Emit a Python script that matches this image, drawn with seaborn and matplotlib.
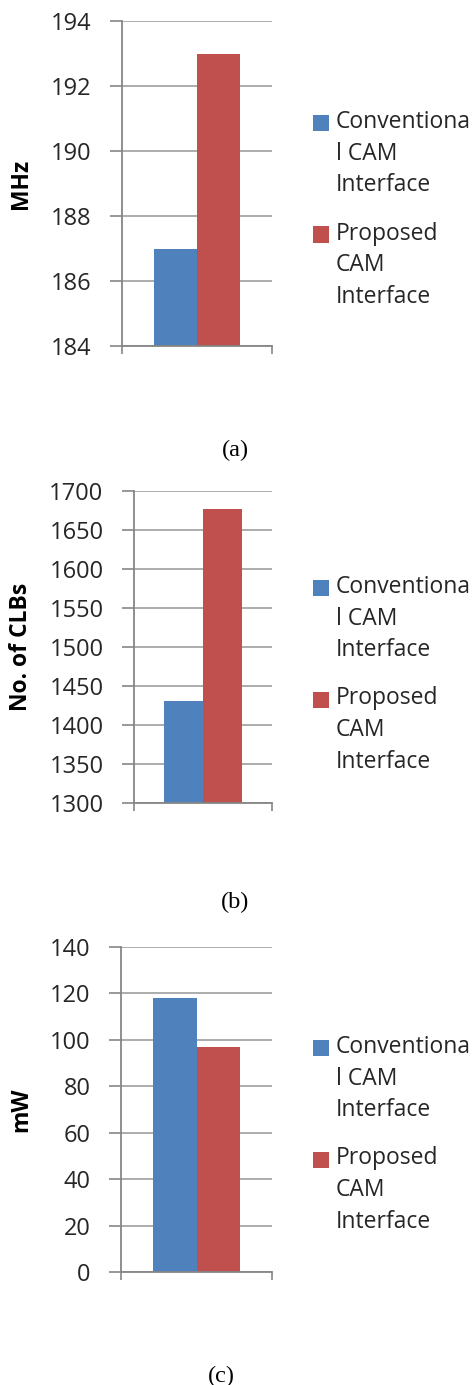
import matplotlib
matplotlib.use("Agg")
import matplotlib.pyplot as plt
import seaborn as sns
import pandas as pd
from matplotlib.patches import Rectangle

series = ["Conventional CAM Interface", "Proposed CAM Interface"]
legend_labels = ["Conventiona\nl CAM\nInterface", "Proposed\nCAM\nInterface"]
colors = ["#4F81BD", "#C0504D"]

mhz_values = [187, 193]
clb_values = [1431, 1677]
mw_values = [118, 97]

mhz_ticks = [184, 186, 188, 190, 192, 194]
clb_ticks = [1300, 1350, 1400, 1450, 1500, 1550, 1600, 1650, 1700]
mw_ticks = [0, 20, 40, 60, 80, 100, 120, 140]

ylabels = ["MHz", "No. of CLBs", "mW"]
captions = ["(a)", "(b)", "(c)"]

sns.set_theme(style="white")
plt.rcParams['font.family'] = ['Open Sans', 'DejaVu Sans']

W, H = 474, 1385
fig = plt.figure(figsize=(W / 100, H / 100), dpi=100)

# pixel boxes: left, right, top, bottom
panels = [
    dict(box=(122, 272, 21, 346), vals=mhz_values, ticks=mhz_ticks, width=0.573,
         leg_y=123, cap=(235, 450)),
    dict(box=(134, 272, 491, 803), vals=clb_values, ticks=clb_ticks, width=0.56,
         leg_y=588, cap=(235, 902)),
    dict(box=(121, 272, 947, 1272), vals=mw_values, ticks=mw_ticks, width=0.573,
         leg_y=1048, cap=(221, 1376)),
]

grid_color = "#A6A6A6"
spine_color = "#868686"

for i, p in enumerate(panels):
    l, r, t, b = p["box"]
    ax = fig.add_axes([l / W, 1 - b / H, (r - l) / W, (b - t) / H])
    df = pd.DataFrame({"cat": ["x", "x"], "series": series, "value": p["vals"]})
    sns.barplot(data=df, x="cat", y="value", hue="series", palette=colors,
                width=p["width"], gap=0, ax=ax, legend=False, saturation=1,
                linewidth=0, edgecolor="none")
    ax.set_xlim(-0.5, 0.5)
    ax.set_ylim(p["ticks"][0], p["ticks"][-1])
    ax.set_yticks(p["ticks"])
    ax.set_yticklabels([str(v) for v in p["ticks"]], fontsize=17, color="#262626")
    ax.set_xticks([-0.5, 0.5])
    ax.set_xticklabels([])
    ax.set_xlabel("")
    ax.tick_params(axis="y", direction="out", length=9, width=1.2, color=spine_color,
                   pad=13, left=True)
    ax.tick_params(axis="x", direction="out", length=6, width=1.2, color=spine_color,
                   bottom=True)
    ax.yaxis.grid(True, color=grid_color, linewidth=1.3)
    ax.set_axisbelow(True)
    for s in ["top", "right"]:
        ax.spines[s].set_visible(False)
    for s in ["left", "bottom"]:
        ax.spines[s].set_visible(True)
        ax.spines[s].set_color(spine_color)
        ax.spines[s].set_linewidth(1.3)
    ax.set_ylabel(ylabels[i], fontsize=16.5, fontweight="bold", color="#000000")
    ax.yaxis.set_label_coords((21 - l) / (r - l), 0.5)
    ax.yaxis.label.set_verticalalignment("center")

    # legend (drawn in figure pixel space)
    y0 = p["leg_y"]
    line_h = 32.5
    for j, (lab, col) in enumerate(zip(legend_labels, colors)):
        yc = y0 + j * (3 * line_h + 14)
        fig.patches.append(Rectangle(((313) / W, 1 - (yc + 8) / H), 16 / W, 16 / H,
                                     transform=fig.transFigure, facecolor=col,
                                     edgecolor="none"))
        fig.text(336 / W, 1 - (yc - 13) / H, lab, fontsize=16.5, color="#262626",
                 ha="left", va="top", linespacing=1.42)

    cx, cy = p["cap"]
    fig.text(cx / W, 1 - cy / H, captions[i], fontsize=17.5,
             family=["Liberation Serif", "DejaVu Serif"], ha="center", va="center",
             color="#000000")

fig.savefig("out.png", dpi=100)
